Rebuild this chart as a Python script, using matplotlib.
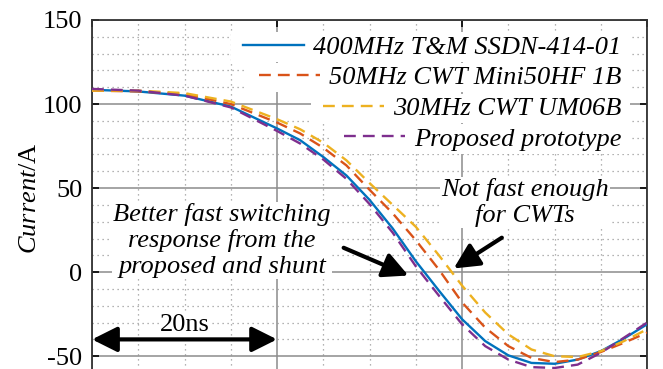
import matplotlib.pyplot as plt
from matplotlib.patches import Rectangle
from matplotlib.ticker import MultipleLocator, NullFormatter

plt.rcParams["font.family"] = ["Liberation Serif", "DejaVu Serif"]
plt.rcParams["mathtext.fontset"] = "custom"
plt.rcParams["mathtext.rm"] = "Liberation Serif"
plt.rcParams["mathtext.it"] = "Liberation Serif:italic"
plt.rcParams["axes.unicode_minus"] = False

# time axis in ns, current in A
t_ns = [0, 5, 10, 15, 20, 22.5, 25, 27.5, 30, 32.5, 35, 37.5, 40,
        42.5, 45, 47.5, 50, 52.5, 55, 57.5, 60]
i_tm = [108.5, 107.5, 105, 98.5, 85.5, 78.5, 68.5, 57.5, 43, 26, 6.5, -11, -28,
        -41, -49.5, -54, -54.5, -52, -47, -39.5, -31]
i_mini50 = [108, 107.5, 106, 100, 89, 82.5, 74, 63.5, 49, 35, 19, 1.5, -18,
            -33, -44, -51, -53.5, -52, -47.5, -42, -36]
i_um06 = [108, 108, 106.5, 101.5, 91, 85, 77, 66.5, 53, 40, 27, 10, -8,
          -24, -37, -46, -50, -50.5, -47, -41, -34]
i_proposed = [109, 108, 105, 98, 84, 76.5, 67, 55.5, 40.5, 23.5, 3.5, -14, -31,
              -44, -52, -56.5, -57, -55, -48, -39, -30]

labels = ["400MHz T&M SSDN-414-01", "50MHz CWT Mini50HF 1B",
          "30MHz CWT UM06B", "Proposed prototype"]
colors = ["#0072BD", "#D95319", "#EDB120", "#7E2F8E"]

fig = plt.figure(figsize=(6.63, 3.69), dpi=100)
ax = fig.add_axes([0.1388, -0.02, 0.976 - 0.1388, 0.9458 + 0.02])

dash = (0, (5, 3))
ax.plot(t_ns, i_tm, color=colors[0], lw=1.7, label=labels[0], zorder=3)
ax.plot(t_ns, i_mini50, color=colors[1], lw=1.7, ls=dash, label=labels[1], zorder=3)
ax.plot(t_ns, i_um06, color=colors[2], lw=1.7, ls=dash, label=labels[2], zorder=3)
ax.plot(t_ns, i_proposed, color=colors[3], lw=1.7, ls=dash, label=labels[3], zorder=3)

ax.set_xlim(0, 60)
ax.set_ylim(-62, 150)
ax.xaxis.set_major_locator(MultipleLocator(20))
ax.xaxis.set_minor_locator(MultipleLocator(5))
ax.yaxis.set_major_locator(MultipleLocator(50))
ax.yaxis.set_minor_locator(MultipleLocator(10))
ax.xaxis.set_major_formatter(NullFormatter())
ax.grid(True, which="major", color="#8c8c8c", lw=1.1, ls="-")
ax.grid(True, which="minor", color="#9a9a9a", lw=0.9, ls=(0, (1, 3)))
ax.set_axisbelow(True)
ax.tick_params(which="major", direction="in", length=5, width=1.2, top=True, right=True,
               labelsize=19, pad=7)
ax.tick_params(which="minor", length=0)
for s in ax.spines.values():
    s.set_linewidth(1.3)
    s.set_color("#333333")

ax.set_ylabel(r"$\mathit{Current}$/A", fontsize=19, labelpad=1)

# legend rows are right aligned, each row with its own white background
leg = ax.legend(loc="upper right", bbox_to_anchor=(0.985, 1.005),
                prop={"style": "italic", "size": 19}, handlelength=2.3,
                handletextpad=0.35, labelspacing=0.27, borderpad=0.15,
                frameon=False)
leg.set_zorder(6)
for col in leg._legend_handle_box.get_children():
    col.align = "right"

fig.canvas.draw()
renderer = fig.canvas.get_renderer()
inv = ax.transAxes.inverted()
for col in leg._legend_handle_box.get_children():
    for row in col.get_children():
        bb = row.get_window_extent(renderer)
        (x0, y0), (x1, y1) = inv.transform([(bb.x0 - 12, bb.y0 - 3), (bb.x1 + 8, bb.y1 + 3)])
        ax.add_patch(Rectangle((x0, y0), x1 - x0, y1 - y0, transform=ax.transAxes,
                               facecolor="white", edgecolor="none", zorder=2))

txt_kw = dict(fontsize=19, style="italic", ha="center", va="center",
              bbox=dict(facecolor="white", edgecolor="none", pad=0.5), zorder=4)
ax.text(14.05, 19, "Better fast switching\nresponse from the\nproposed and shunt",
        linespacing=1.2, **txt_kw)
ax.text(46.8, 41.5, "Not fast enough\nfor CWTs", linespacing=1.2, **txt_kw)

arrow_kw = dict(arrowstyle="-|>", color="black", lw=3, mutation_scale=38, shrinkA=0, shrinkB=0)
ax.annotate("", xy=(34.2, -2), xytext=(27.2, 14.5), arrowprops=arrow_kw, zorder=5)
ax.annotate("", xy=(39.1, 2.2), xytext=(44.3, 20.5), arrowprops=arrow_kw, zorder=5)
ax.annotate("", xy=(20, -40), xytext=(0, -40),
            arrowprops=dict(arrowstyle="<|-|>", color="black", lw=3, mutation_scale=38,
                            shrinkA=0, shrinkB=0), zorder=5)
ax.text(10, -31.5, "20ns", fontsize=19, ha="center", va="center",
        bbox=dict(facecolor="white", edgecolor="none", pad=0.5), zorder=4)

fig.savefig("out.png", dpi=100)
